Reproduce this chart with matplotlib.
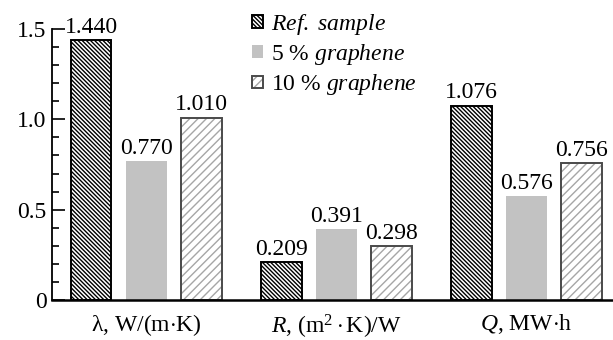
import numpy as np
import matplotlib
matplotlib.use("Agg")
import matplotlib.pyplot as plt
from matplotlib.ticker import MultipleLocator
from matplotlib.colors import to_rgba

plt.rcParams['font.family'] = 'serif'
plt.rcParams['font.serif'] = ['Liberation Serif', 'DejaVu Serif']
plt.rcParams['mathtext.fontset'] = 'custom'
plt.rcParams['mathtext.rm'] = 'Liberation Serif'
plt.rcParams['mathtext.it'] = 'Liberation Serif:italic'
plt.rcParams['mathtext.bf'] = 'Liberation Serif:bold'
plt.rcParams['hatch.linewidth'] = 1.0

# Data
categories = [r'λ, W/(m$\cdot$K)', r'$R$, (m$^2\cdot$K)/W', r'$Q$, MW$\cdot$h']
series_names = [r'$\it{Ref.\ sample}$', r'5 % $\it{graphene}$', r'10 % $\it{graphene}$']
ref_sample = [1.440, 0.209, 1.076]
graphene_5 = [0.770, 0.391, 0.576]
graphene_10 = [1.010, 0.298, 0.756]
ytick_values = [0, 0.5, 1.0, 1.5]
ytick_labels = ['0', '0.5', '1.0', '1.5']

fig = plt.figure(figsize=(6.13, 3.40), dpi=100)
ax = fig.add_axes([52 / 613, 40 / 340, 1 - 52 / 613, 271 / 340])

x = np.arange(len(categories))
pitch = 0.29
width = 0.215

styles = [
    dict(facecolor='white', edgecolor='black', hatch='\\' * 8, linewidth=1.4),
    dict(facecolor='#c2c2c2', edgecolor='none', hatch=None, linewidth=0),
    dict(facecolor='white', edgecolor='#4a4a4a', hatch='////', linewidth=1.4),
]
hatch_colors = ['black', None, '#a6a6a6']

all_series = [ref_sample, graphene_5, graphene_10]
for i, (vals, name, st) in enumerate(zip(all_series, series_names, styles)):
    pos = x + (i - 1) * pitch
    bars = ax.bar(pos, vals, width=width, label=name, **st)
    if hatch_colors[i] is not None:
        for b in bars:
            b._hatch_color = to_rgba(hatch_colors[i])
    for xp, v in zip(pos, vals):
        ax.text(xp, v + 0.012, f'{v:.3f}', ha='center', va='bottom',
                fontsize=17, clip_on=False)

ax.set_xlim(-0.495, 2.455)
ax.set_ylim(0, 1.5)
ax.set_yticks(ytick_values)
ax.set_yticklabels(ytick_labels)
ax.yaxis.set_minor_locator(MultipleLocator(0.1))
ax.tick_params(axis='y', which='major', direction='in', length=9, width=1.2,
               labelsize=17, pad=4)
ax.tick_params(axis='y', which='minor', direction='in', length=5, width=1.2)
ax.set_xticks(x)
ax.set_xticklabels(categories)
ax.tick_params(axis='x', length=0, labelsize=17, pad=9)

for s in ['top', 'right']:
    ax.spines[s].set_visible(False)
ax.spines['left'].set_linewidth(1.3)
ax.spines['bottom'].set_linewidth(1.8)

leg = ax.legend(loc='upper left', bbox_to_anchor=(252 / 613, 1 - 12 / 340),
                bbox_transform=fig.transFigure, frameon=False, fontsize=17,
                handlelength=0.45, handleheight=0.45, handletextpad=0.35,
                labelspacing=0.22, borderpad=0, borderaxespad=0)

fig.savefig('out.png', dpi=100)
